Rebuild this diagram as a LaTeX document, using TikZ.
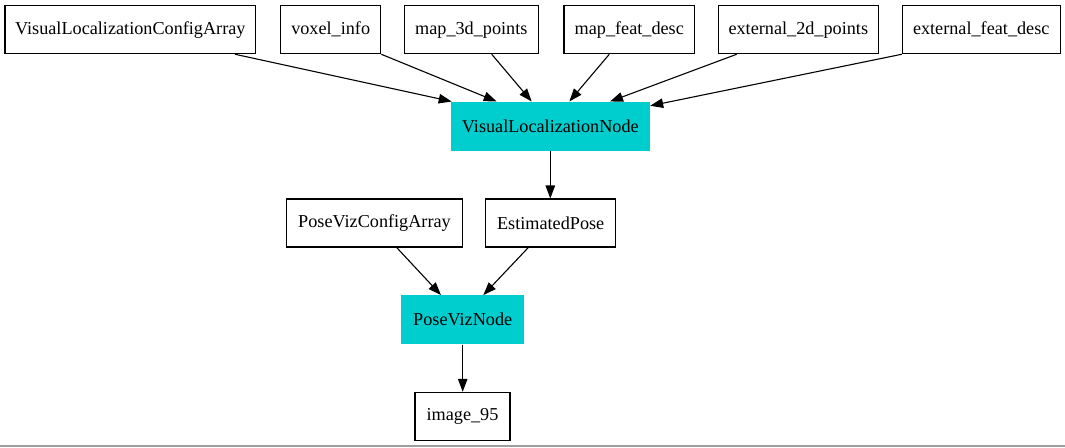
\documentclass[tikz,border=0pt]{standalone}
\usepackage{fontspec}
\setmainfont{Liberation Serif}
\usetikzlibrary{arrows.meta}
\definecolor{nodecyan}{HTML}{00CDCD}
\tikzset{
  databox/.style={draw=black, line width=1.1pt, fill=white, inner sep=0pt, minimum height=48pt, font=\fontsize{18.2}{20}\selectfont},
  procbox/.style={fill=nodecyan, inner sep=0pt, minimum height=49pt, font=\fontsize{18.2}{20}\selectfont},
  edge/.style={draw=black, line width=1.1pt, -{Triangle[length=13pt,width=9.5pt]}}
}
\begin{document}
\begin{tikzpicture}[x=1pt,y=-1pt]
\useasboundingbox (0,0) rectangle (1065,447);
\fill[white] (0,0) rectangle (1065,447);
% top row
\node[databox, minimum width=250.7pt] (vlca) at (130.3,29.7) {VisualLocalizationConfigArray};
\node[databox, minimum width=100pt] (voxel) at (330.7,29.7) {voxel\_info};
\node[databox, minimum width=134pt] (map3d) at (471.3,29.7) {map\_3d\_points};
\node[databox, minimum width=130.7pt] (mapfeat) at (629.3,29.7) {map\_feat\_desc};
\node[databox, minimum width=160pt] (ext2d) at (798.3,29.7) {external\_2d\_points};
\node[databox, minimum width=157.7pt] (extfeat) at (981.2,29.7) {external\_feat\_desc};
% middle
\node[procbox, minimum width=199.3pt] (vln) at (550.3,126.2) {VisualLocalizationNode};
\node[databox, minimum width=175.7pt] (pvca) at (374.5,223) {PoseVizConfigArray};
\node[databox, minimum width=130pt] (ep) at (550.7,223) {EstimatedPose};
\node[procbox, minimum width=122.7pt] (pvn) at (462.7,319.8) {PoseVizNode};
\node[databox, minimum width=95pt] (img) at (462.5,416.3) {image\_95};
% edges
\draw[edge] ([xshift=104.7pt]vlca.south) -- ([xshift=-98.6pt]vln.north);
\draw[edge] (voxel.south east) -- ([xshift=-53.6pt]vln.north);
\draw[edge] ([xshift=20.4pt]map3d.south) -- ([xshift=-18.6pt]vln.north);
\draw[edge] ([xshift=-20pt]mapfeat.south) -- ([xshift=19pt]vln.north);
\draw[edge] ([xshift=-61.6pt]ext2d.south) -- ([xshift=59.7pt]vln.north);
\draw[edge] (extfeat.south west) -- ([yshift=-4.3pt]vln.north east);
\draw[edge] (vln.south) -- (vln.south |- ep.north);
\draw[edge] ([xshift=22.2pt]pvca.south) -- ([xshift=-21.7pt]pvn.north);
\draw[edge] ([xshift=-22.4pt]ep.south) -- ([xshift=20.6pt]pvn.north);
\draw[edge] (pvn.south) -- (pvn.south |- img.north);
% bottom rule
\coordinate (bl) at (0,446);
\coordinate (br) at (1065,446);
\draw[color=black!38, line width=1.5pt] (bl) -- (br);
\end{tikzpicture}
\end{document}
